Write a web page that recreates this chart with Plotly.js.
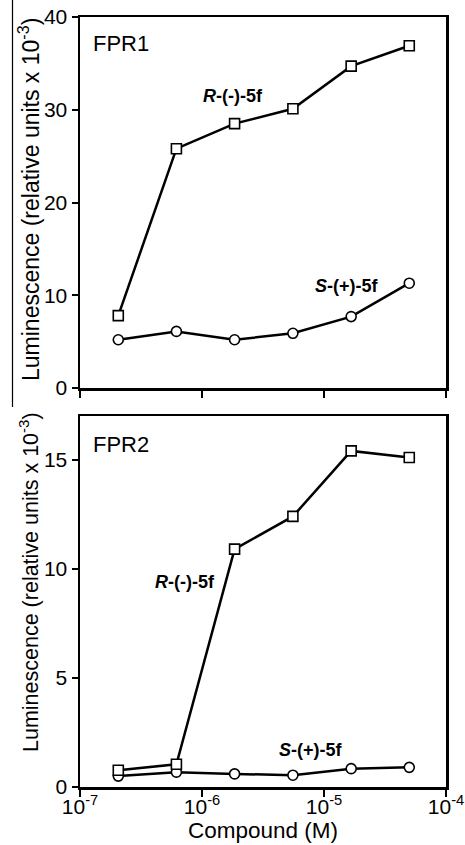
<!DOCTYPE html>
<html>
<head>
<meta charset="utf-8">
<script src="https://cdn.plot.ly/plotly-3.0.1.min.js"></script>
<style>html,body{margin:0;padding:0;background:#fff;}#chart{width:465px;height:845px;}</style>
</head>
<body>
<div id="chart"></div>
<script>
// Compound concentrations (M)
const conc = [2.06e-7, 6.17e-7, 1.85e-6, 5.56e-6, 1.67e-5, 5.0e-5];
// FPR1 luminescence (relative units x 10^-3)
const fpr1_R = [7.8, 25.8, 28.5, 30.1, 34.7, 36.9];
const fpr1_S = [5.2, 6.1, 5.2, 5.9, 7.7, 11.3];
// FPR2 luminescence (relative units x 10^-3)
const fpr2_R = [0.77, 1.04, 10.9, 12.4, 15.4, 15.1];
const fpr2_S = [0.5, 0.68, 0.6, 0.54, 0.84, 0.9];
// Tick labels
const xTickVals = [1e-7, 1e-6, 1e-5, 1e-4];
const xTickText = ["10<sup>-7</sup>", "10<sup>-6</sup>", "10<sup>-5</sup>", "10<sup>-4</sup>"];
const y1Ticks = [0, 10, 20, 30, 40];
const y2Ticks = [0, 5, 10, 15];
const yTitle = "Luminescence (relative units x 10<sup>-3</sup>)";

const FONT = "Arial, 'Liberation Sans', Helvetica, sans-serif";
const W = 465, H = 845, ML = 80, MR = 19, MT = 17, MB = 58;
const PW = W - ML - MR, PH = H - MT - MB;
const px = x => (x - ML) / PW;
const py = y => (H - MB - y) / PH;

const lineStyle = {color: '#000', width: 2.5};
const sq = {symbol: 'square', size: 10, color: '#fff', line: {color: '#000', width: 1.6}};
const ci = {symbol: 'circle', size: 10, color: '#fff', line: {color: '#000', width: 1.6}};

const traces = [
  {x: conc, y: fpr1_S, xaxis: 'x2', yaxis: 'y2', mode: 'lines+markers', line: lineStyle, marker: ci, name: 'S-(+)-5f FPR1'},
  {x: conc, y: fpr1_R, xaxis: 'x2', yaxis: 'y2', mode: 'lines+markers', line: lineStyle, marker: sq, name: 'R-(-)-5f FPR1'},
  {x: conc, y: fpr2_S, xaxis: 'x', yaxis: 'y', mode: 'lines+markers', line: lineStyle, marker: ci, name: 'S-(+)-5f FPR2'},
  {x: conc, y: fpr2_R, xaxis: 'x', yaxis: 'y', mode: 'lines+markers', line: lineStyle, marker: sq, name: 'R-(-)-5f FPR2'}
];

const axCommon = {
  showline: true, linecolor: '#000', linewidth: 2.5, mirror: true,
  ticks: 'outside', tickcolor: '#000', tickwidth: 2, showgrid: false, zeroline: false,
  tickfont: {family: FONT, size: 21, color: '#000'}
};

const topY = py(388), botTop = py(416);

const layout = {
  width: W, height: H,
  margin: {l: ML, r: MR, t: MT, b: MB},
  paper_bgcolor: '#fff', plot_bgcolor: '#fff',
  showlegend: false,
  font: {family: FONT, color: '#000'},
  xaxis: Object.assign({}, axCommon, {
    type: 'log', range: [-7, -4], anchor: 'y', domain: [0, 1],
    tickvals: xTickVals, ticktext: xTickText, ticklen: 7, ticklabelstandoff: -8,
    title: {text: 'Compound (M)', font: {family: FONT, size: 22.5, color: '#000'}, standoff: 0}
  }),
  xaxis2: Object.assign({}, axCommon, {
    type: 'log', range: [-7, -4], anchor: 'y2', domain: [0, 1],
    tickvals: xTickVals, showticklabels: false, ticklen: 7
  }),
  yaxis: Object.assign({}, axCommon, {
    range: [0, 17], domain: [0, botTop], anchor: 'x',
    tickvals: y2Ticks, ticklen: 6
  }),
  yaxis2: Object.assign({}, axCommon, {
    range: [0, 40], domain: [topY, 1], anchor: 'x2',
    tickvals: y1Ticks, ticklen: 6
  }),
  annotations: [
    {xref: 'paper', yref: 'paper', x: px(29), y: py(200), text: yTitle, textangle: -90,
     showarrow: false, xanchor: 'center', yanchor: 'middle', font: {family: FONT, size: 23, color: '#000'}},
    {xref: 'paper', yref: 'paper', x: px(29), y: py(582), text: yTitle, textangle: -90,
     showarrow: false, xanchor: 'center', yanchor: 'middle', font: {family: FONT, size: 21.5, color: '#000'}},
    {xref: 'paper', yref: 'paper', x: px(91), y: py(44), text: 'FPR1', showarrow: false,
     xanchor: 'left', yanchor: 'middle', font: {family: FONT, size: 22, color: '#000'}},
    {xref: 'paper', yref: 'paper', x: px(91), y: py(444), text: 'FPR2', showarrow: false,
     xanchor: 'left', yanchor: 'middle', font: {family: FONT, size: 22, color: '#000'}},
    {xref: 'paper', yref: 'paper', x: px(233), y: py(96), text: '<b><i>R</i>-(-)-5f</b>', showarrow: false,
     xanchor: 'center', yanchor: 'middle', font: {family: FONT, size: 18, color: '#000'}},
    {xref: 'paper', yref: 'paper', x: px(347), y: py(286), text: '<b><i>S</i>-(+)-5f</b>', showarrow: false,
     xanchor: 'center', yanchor: 'middle', font: {family: FONT, size: 18, color: '#000'}},
    {xref: 'paper', yref: 'paper', x: px(185), y: py(582), text: '<b><i>R</i>-(-)-5f</b>', showarrow: false,
     xanchor: 'center', yanchor: 'middle', font: {family: FONT, size: 18, color: '#000'}},
    {xref: 'paper', yref: 'paper', x: px(311), y: py(750), text: '<b><i>S</i>-(+)-5f</b>', showarrow: false,
     xanchor: 'center', yanchor: 'middle', font: {family: FONT, size: 18, color: '#000'}}
  ],
  shapes: [
    {type: 'line', xref: 'paper', yref: 'paper', x0: px(12.5), x1: px(12.5), y0: py(0), y1: py(407),
     line: {color: '#000', width: 1.2}}
  ]
};

Plotly.newPlot('chart', traces, layout, {staticPlot: true, displayModeBar: false});
</script>
</body>
</html>
